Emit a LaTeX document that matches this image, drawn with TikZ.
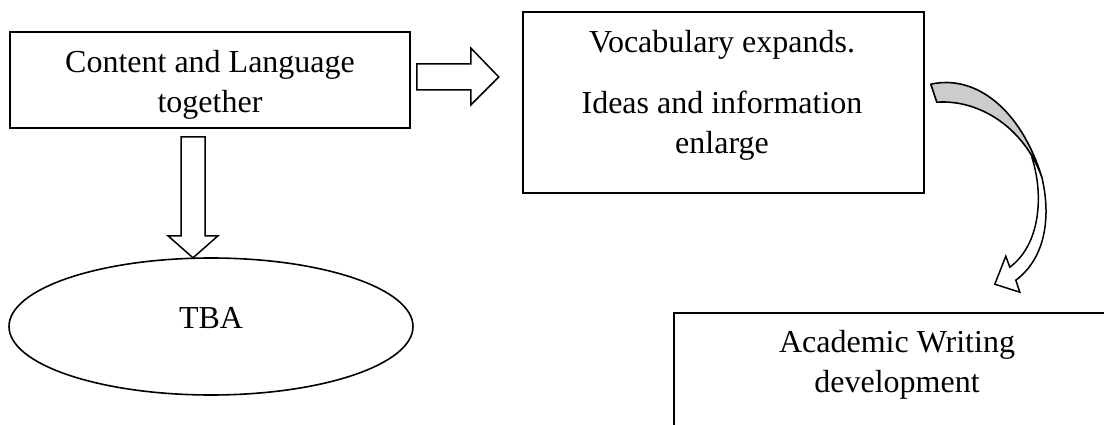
\documentclass[tikz,border=0pt]{standalone}
\usepackage{fontspec}
\setmainfont{Liberation Serif}
\usetikzlibrary{shapes.geometric,calc}
\begin{document}
\begin{tikzpicture}[x=1pt,y=-1pt,
  every node/.style={font=\fontsize{32}{40}\selectfont},
  boxnode/.style={draw, line width=1.6pt, inner sep=0pt, align=center},
  txt/.style={align=center, inner sep=0pt},
  blockarrow/.style={draw, line width=1.5pt, fill=white, line join=miter},
]
\useasboundingbox (0,0) rectangle (1104,425);
% boxes
\node[boxnode, minimum width=400pt, minimum height=96pt] (b1) at (210,80) {};
\node[txt] (t1) at (210,85) {Content and Language\\together};
\node[boxnode, minimum width=401pt, minimum height=181pt] (b2) at (723.5,102.5) {};
\node[txt] (t2) at (722,95) {Vocabulary expands.\\[21pt]Ideas and information\\enlarge};
\node[boxnode, minimum width=448pt, minimum height=200pt, anchor=north west] (b3) at (673,312) {};
\node[txt] (t3) at (897,365) {Academic Writing\\development};
\node[draw, ellipse, line width=1.6pt, minimum width=404pt, minimum height=137pt, inner sep=0pt] (e) at (211,326.5) {};
\node[txt] (te) at (211,318) {TBA};
% right block arrow b1 -> b2
\begin{scope}[shift={(b1.east)}]
\draw[blockarrow] (6,-16) -- (60,-16) -- (60,-32) -- (88,-3) -- (60,25) -- (60,10) -- (6,10) -- cycle;
\end{scope}
% down block arrow b1 -> e
\begin{scope}[shift={(b1.south)}]
\draw[blockarrow] (-29,8) -- (-5,8) -- (-5,107) -- (8,107) -- (-17,129) -- (-42,107) -- (-29,107) -- cycle;
\end{scope}
% curved arrow b2 -> b3 (offsets from b2.north east = (924,12))
\begin{scope}[shift={(b2.north east)}]
\draw[line width=1.5pt, fill=white, line join=miter]
  (107,146) .. controls (119,183) and (116,233) .. (85,256) -- (81,245) -- (70,273) -- (95,281) -- (91,269)
  .. controls (122,246) and (126,203) .. (117,166);
\draw[line width=1.6pt, fill=black!20, line join=round]
  (6,73) .. controls (51,63) and (96,98) .. (117,166) .. controls (100,118) and (56,88) .. (12,91) -- cycle;
\end{scope}
\end{tikzpicture}
\end{document}
